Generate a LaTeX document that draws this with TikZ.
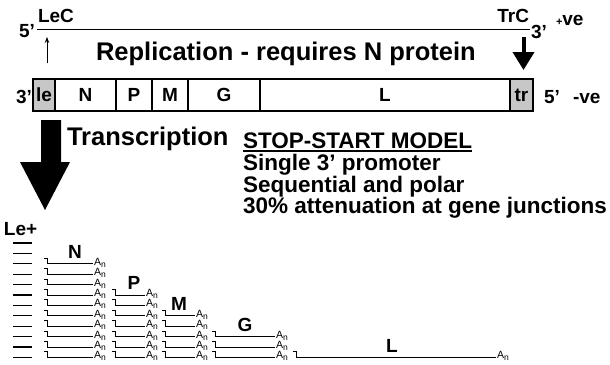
\documentclass[tikz,border=0pt]{standalone}
\usepackage{fontspec}
\setmainfont{Liberation Sans}
\usetikzlibrary{arrows.meta}

% size helpers
\newcommand{\fsz}[1]{\fontsize{#1}{#1}\selectfont}
% poly-A tail label
\newcommand{\polyA}{{\fsz{10.5}A\raisebox{-2pt}{\fsz{8.5}n}}}

\begin{document}
\begin{tikzpicture}[x=1pt,y=-1pt,
  txt/.style={inner sep=0pt, outer sep=0pt, font=\bfseries\fsz{19}},
  big/.style={inner sep=0pt, outer sep=0pt, font=\bfseries\fsz{25.5}},
  lst/.style={inner sep=0pt, outer sep=0pt, font=\bfseries\fsz{22.5}},
  cell/.style={draw, line width=1.3pt, inner sep=0pt, outer sep=0pt,
    minimum height=32pt, anchor=north west, font=\bfseries\fsz{19}},
  shade/.style={fill=black!22},
  glbl/.style={inner sep=0pt, outer sep=0pt, font=\bfseries\fsz{19}, anchor=base},
  leader/.style={line width=1.2pt},
  mrna/.style={line width=0.9pt},
  tail/.style={inner sep=0pt, outer sep=0pt, anchor=base west}]

\useasboundingbox (0,0) rectangle (610,364);

% ---------- positive-sense antigenome ----------
\coordinate (p5) at (37,29);
\coordinate (p3) at (530,29);
\draw[line width=1pt] (p5) -- (p3);
\node[txt, anchor=base east] (fivep) at (35,37) {5'};
\node[txt, anchor=base west] (lec) at (38,23) {LeC};
\node[txt, anchor=base east] (trc) at (529,23) {TrC};
\node[txt, anchor=base west] (threep) at (531,38) {3'};
\node[txt, anchor=base west] (pve) at (556,25) {{\fsz{11}+}ve};

\node[big, anchor=base west] (repl) at (96,60) {Replication - requires N protein};

% replication start / end markers
\coordinate (upA) at (47,63);
\coordinate (upB) at (47,37);
\draw[line width=0.8pt, -{Stealth[length=6pt,width=4.5pt]}] (upA) -- (upB);
\coordinate (dnA) at (523.5,37);
\coordinate (dnB) at (523.5,70);
\draw[line width=4pt, -{Triangle[length=18pt,width=21pt]}] (dnA) -- (dnB);

% ---------- negative-sense genome ----------
\node[cell, shade, minimum width=22pt] (le) at (33,79) {le};
\node[cell, minimum width=61pt] (gN) at (le.north east) {N};
\node[cell, minimum width=36pt] (gP) at (gN.north east) {P};
\node[cell, minimum width=36pt] (gM) at (gP.north east) {M};
\node[cell, minimum width=72pt] (gG) at (gM.north east) {G};
\node[cell, minimum width=250pt] (gL) at (gG.north east) {L};
\node[cell, shade, minimum width=23pt] (tr) at (gL.north east) {tr};

\node[txt, anchor=base east] (threem) at (32,103) {3'};
\node[txt, anchor=base west] (fivem) at (544,103) {5'};
\node[txt, anchor=base west] (mve) at (573,103) {-ve};

% ---------- transcription ----------
\fill (41,120) -- (61,120) -- (61,162) -- (70,162) -- (45,210) -- (20,162) -- (41,162) -- cycle;
\node[big, anchor=base west] (trx) at (67,145) {Transcription};

\node[lst, anchor=base west] (model) at (243,148) {STOP-START MODEL};
\draw[line width=1.2pt] ([yshift=-3pt]model.base west) -- ([yshift=-3pt]model.base east);
\node[lst, anchor=base west] (l1) at (243,170) {Single 3’ promoter};
\node[lst, anchor=base west] (l2) at (243,192) {Sequential and polar};
\node[lst, anchor=base west] (l3) at (243,213) {30\% attenuation at gene junctions};

\node[txt, anchor=base west] (leplus) at (4,235) {Le+};

% leader RNAs, one per row
\foreach \r in {1,...,12}{
  \pgfmathsetmacro{\yy}{243+(\r-1)*10.4}
  \draw[leader] (13,\yy) -- (32,\yy);
}

% mRNAs: start x, end x, first row
\foreach \xs/\xe/\fr in {44/93/3, 112/145/6, 162/195/8, 212/275/10, 293/496/12}{
  \foreach \r in {\fr,...,12}{
    \pgfmathsetmacro{\yy}{243+(\r-1)*10.4}
    \draw[mrna] (\xs,\yy-5.5) -- (\xs+3,\yy-5.5) -- (\xs+3,\yy) -- (\xe,\yy);
    \node[tail] at (\xe+1,\yy+1.5) {\polyA};
  }
}

% gene names above the first transcript of each gene
\node[glbl] (tN) at (75,258) {N};
\node[glbl] (tP) at (134,289) {P};
\node[glbl] (tM) at (179,310) {M};
\node[glbl] (tG) at (245,331) {G};
\node[glbl] (tL) at (392,352) {L};

\end{tikzpicture}
\end{document}
